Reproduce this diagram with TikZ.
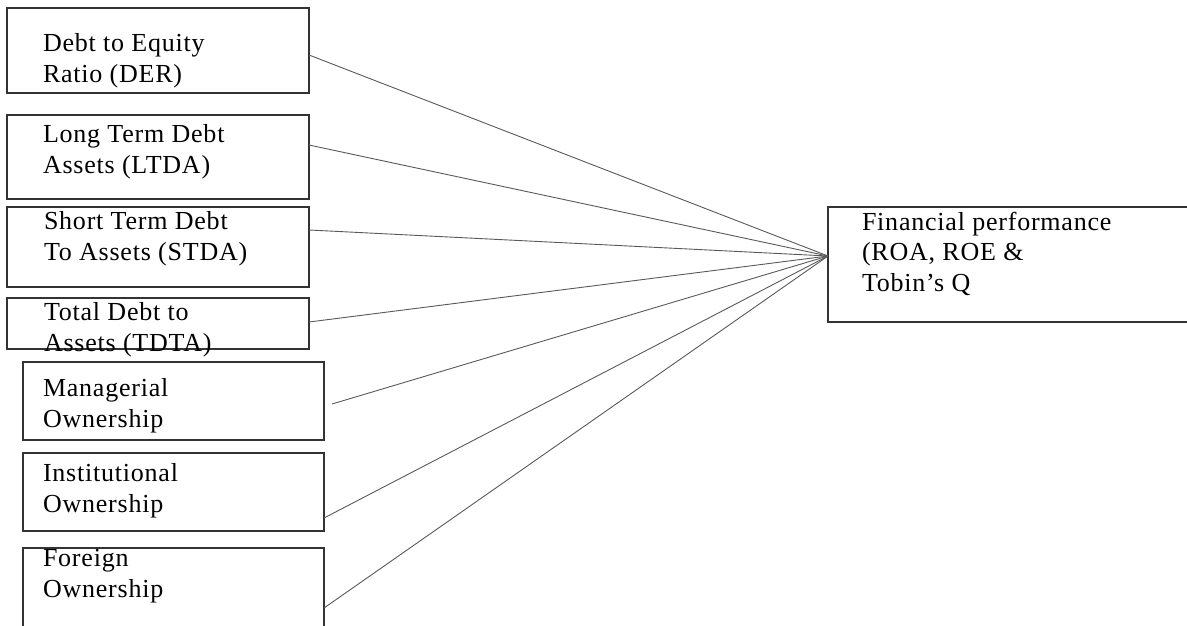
\documentclass[tikz,border=0pt]{standalone}
\usepackage{fontspec}
\setmainfont{Liberation Serif}
\newfontfamily\boxfont[LetterSpace=3]{Liberation Serif}
\usetikzlibrary{positioning}
\begin{document}
\begin{tikzpicture}
  [x=1pt,y=-1pt,
   every node/.style={rectangle,inner sep=0pt,outer sep=0pt},
   box/.style={draw=black!80,line width=1.2pt},
   word/.style={draw=none,fill=none,align=left,anchor=base west,
     font=\boxfont\fontsize{26}{30.5}\selectfont},
   link/.style={draw=black!65,line width=0.9pt}]
  \useasboundingbox (0,0) rectangle (1187,625);
  % boxes on the left
  \node[box,minimum width=302pt,minimum height=85pt] (der) at (158,50.5) {};
  \node[box,minimum width=302pt,minimum height=84pt] (ltda) at (158,157) {};
  \node[box,minimum width=302pt,minimum height=80pt] (stda) at (158,247) {};
  \node[box,minimum width=302pt,minimum height=51pt] (tdta) at (158,323.5) {};
  \node[box,minimum width=301pt,minimum height=78pt] (mown) at (173.5,401) {};
  \node[box,minimum width=301pt,minimum height=78pt] (iown) at (173.5,492) {};
  \node[box,minimum width=301pt,minimum height=84pt] (fown) at (173.5,590) {};
  % box on the right
  \node[box,minimum width=364pt,minimum height=115pt] (perf) at (1010,264.5) {};
  % texts (anchored at the baseline of the last line)
  \node[word] (w1) at (43,82) {Debt to Equity\\Ratio (DER)};
  \node[word] (w2) at (43,173) {Long Term Debt\\Assets (LTDA)};
  \node[word] (w3) at (44,260) {Short Term Debt\\To Assets (STDA)};
  \node[word] (w4) at (44,351) {Total Debt to\\Assets (TDTA)};
  \node[word] (w5) at (43,427) {Managerial\\Ownership};
  \node[word] (w6) at (43,512) {Institutional\\Ownership};
  \node[word] (w7) at (43,597) {Foreign\\Ownership};
  \node[word] (w8) at (862,291) {Financial performance\\(ROA, ROE \&\\Tobin’s Q};
  % connectors
  \coordinate (hub) at ([yshift=8.5pt]perf.west);
  \foreach \from/\dx/\dy in {der/0/-4.5,ltda/0/12,stda/0/17,tdta/0/1.5,
                             mown/8/-3,iown/0/-26,fown/0/-18}
    \draw[link] ([xshift=\dx pt,yshift=\dy pt]\from.east) -- (hub);
\end{tikzpicture}
\end{document}
